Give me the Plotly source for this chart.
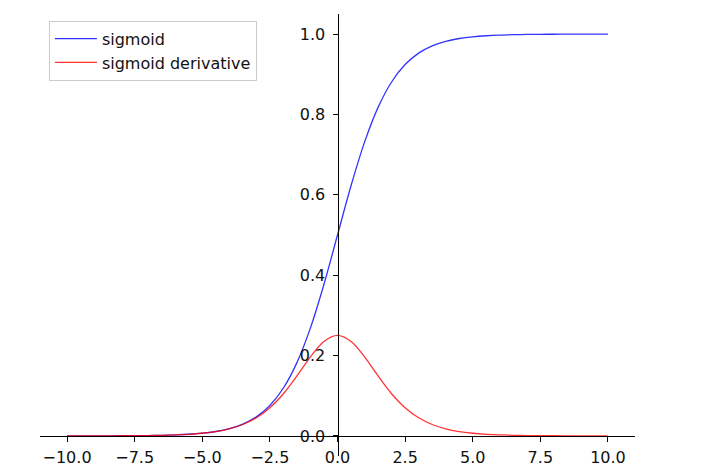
import plotly.graph_objects as go

x_vals = [-10.0, -9.5, -9.0, -8.5, -8.0, -7.5, -7.0, -6.5, -6.0, -5.5, -5.0, -4.5, -4.0, -3.5,
          -3.0, -2.5, -2.0, -1.5, -1.0, -0.5, 0.0, 0.5, 1.0, 1.5, 2.0, 2.5, 3.0, 3.5, 4.0,
          4.5, 5.0, 5.5, 6.0, 6.5, 7.0, 7.5, 8.0, 8.5, 9.0, 9.5, 10.0]

sigmoid_vals = [0.0000454, 0.0000749, 0.000123, 0.000203, 0.000335, 0.000553, 0.000911,
                0.001501, 0.002473, 0.004070, 0.006693, 0.010987, 0.017986, 0.029312,
                0.047426, 0.075858, 0.119203, 0.182426, 0.268941, 0.377541, 0.5,
                0.622459, 0.731059, 0.817574, 0.880797, 0.924142, 0.952574, 0.970688,
                0.982014, 0.989013, 0.993307, 0.995930, 0.997527, 0.998499, 0.999089,
                0.999447, 0.999665, 0.999797, 0.999877, 0.999925, 0.999955]

deriv_vals = [0.0000454, 0.0000749, 0.000123, 0.000203, 0.000335, 0.000553, 0.000910,
              0.001499, 0.002467, 0.004054, 0.006648, 0.010866, 0.017663, 0.028453,
              0.045177, 0.070104, 0.104994, 0.149146, 0.196612, 0.235004, 0.25,
              0.235004, 0.196612, 0.149146, 0.104994, 0.070104, 0.045177, 0.028453,
              0.017663, 0.010866, 0.006648, 0.004054, 0.002467, 0.001499, 0.000910,
              0.000553, 0.000335, 0.000203, 0.000123, 0.0000749, 0.0000454]

x_ticks = [-10.0, -7.5, -5.0, -2.5, 0.0, 2.5, 5.0, 7.5, 10.0]
y_ticks = [0.0, 0.2, 0.4, 0.6, 0.8, 1.0]

x_range = [-11, 11]
y_range = [-0.05, 1.05]

fig = go.Figure()
fig.add_trace(go.Scatter(x=x_vals, y=sigmoid_vals, mode="lines", name="sigmoid",
                         line=dict(color="rgba(0,0,255,0.8)", width=1.3, shape="spline")))
fig.add_trace(go.Scatter(x=x_vals, y=deriv_vals, mode="lines", name="sigmoid derivative",
                         line=dict(color="rgba(255,0,0,0.8)", width=1.3, shape="spline")))

font = dict(family="DejaVu Sans", size=16, color="#111111")

fig.update_layout(
    width=715, height=471,
    margin=dict(l=40, r=80, t=14, b=15),
    plot_bgcolor="white", paper_bgcolor="white",
    font=font,
    showlegend=True,
    legend=dict(x=0.015, y=0.985, xanchor="left", yanchor="top",
                bgcolor="rgba(255,255,255,0.8)", bordercolor="#cccccc", borderwidth=1,
                font=dict(family="DejaVu Sans", size=16, color="#111111"),
                tracegroupgap=0, itemwidth=42),
    xaxis=dict(range=x_range, tickvals=x_ticks, ticktext=[f"{v:.1f}".replace("-", "\u2212") for v in x_ticks],
               showgrid=False, zeroline=False, showline=True, linecolor="black", linewidth=1,
               ticks="outside", ticklen=5, tickwidth=1, tickcolor="black", ticklabelstandoff=2,
               anchor="free", position=0.05 / 1.1, automargin=False),
    yaxis=dict(range=y_range, tickvals=y_ticks, ticktext=[f"{v:.1f}" for v in y_ticks],
               showgrid=False, zeroline=False, showline=True, linecolor="black", linewidth=1,
               ticks="outside", ticklen=5, tickwidth=1, tickcolor="black", ticklabelstandoff=4,
               anchor="free", position=0.5, automargin=False),
)

fig.write_html("out.html")
